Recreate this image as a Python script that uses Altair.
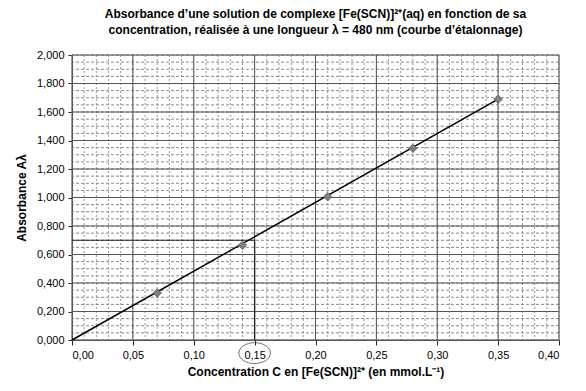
import altair as alt
import pandas as pd
import numpy as np

conc = [0.07, 0.14, 0.21, 0.28, 0.35]
absorb = [0.33, 0.665, 1.005, 1.345, 1.69]
fit_x = [0.0, 0.35]
fit_y = [0.0, 1.69]
x_ticks = [0.0, 0.05, 0.10, 0.15, 0.20, 0.25, 0.30, 0.35, 0.40]
y_ticks = [0.0, 0.2, 0.4, 0.6, 0.8, 1.0, 1.2, 1.4, 1.6, 1.8, 2.0]
x_minor = [round(v, 2) for v in np.arange(0, 0.401, 0.01)]
y_minor = [round(v, 2) for v in np.arange(0, 2.001, 0.05)]
read_a = 0.7
read_c = 0.15

font = "Liberation Sans"
xs = alt.Scale(domain=[0, 0.4], nice=False, zero=True)
ys = alt.Scale(domain=[0, 2.0], nice=False, zero=True)

x_axis = alt.Axis(values=x_ticks, labelExpr="replace(format(datum.value, '.2f'), '.', ',')",
                  grid=False, domainColor="#444444", tickColor="#222222", tickSize=5,
                  labelOverlap=False,
                  labelFont=font, labelFontSize=11, labelColor="black",
                  titleFont=font, titleFontSize=12, titleFontWeight="bold",
                  titleColor="black", labelPadding=4, titlePadding=6)
y_axis = alt.Axis(values=y_ticks, labelExpr="replace(format(datum.value, '.3f'), '.', ',')",
                  grid=False, domainColor="#444444", tickColor="#222222", tickSize=4,
                  labelOverlap=False,
                  labelFont=font, labelFontSize=11, labelColor="black",
                  titleFont=font, titleFontSize=12, titleFontWeight="bold",
                  titleColor="black", labelPadding=4, titlePadding=8)
x_title = "Concentration C en [Fe(SCN)]²⁺ (en mmol.L⁻¹)"
y_title = "Absorbance Aλ"


def X(field):
    return alt.X(field, scale=xs, axis=x_axis, title=x_title)


def Y(field):
    return alt.Y(field, scale=ys, axis=y_axis, title=y_title)


vminor = alt.Chart(pd.DataFrame({"x": x_minor})).mark_rule(
    color="#999999", strokeDash=[2, 2], strokeWidth=1
).encode(x=X("x:Q"))
hminor = alt.Chart(pd.DataFrame({"y": y_minor})).mark_rule(
    color="#888888", strokeDash=[3, 2], strokeWidth=1
).encode(y=Y("y:Q"))
vmajor = alt.Chart(pd.DataFrame({"x": x_ticks})).mark_rule(
    color="#555555", strokeWidth=1
).encode(x=X("x:Q"))
hmajor = alt.Chart(pd.DataFrame({"y": y_ticks})).mark_rule(
    color="#555555", strokeWidth=1
).encode(y=Y("y:Q"))

construct = pd.DataFrame({"x": [0.0, read_c], "x2": [read_c, read_c],
                          "y": [read_a, 0.0], "y2": [read_a, read_a]})
cons = alt.Chart(construct).mark_rule(color="#222222", strokeWidth=1.2).encode(
    x=X("x:Q"), x2="x2:Q", y=Y("y:Q"), y2="y2:Q")

line = alt.Chart(pd.DataFrame({"x": fit_x, "y": fit_y})).mark_line(
    color="black", strokeWidth=1.5
).encode(x=X("x:Q"), y=Y("y:Q"))

pts = alt.Chart(pd.DataFrame({"x": conc, "y": absorb})).mark_point(
    shape="diamond", filled=True, color="#808080", size=70, opacity=1,
    stroke="#555555", strokeWidth=0.8
).encode(x=X("x:Q"), y=Y("y:Q"))

circ = alt.Chart(pd.DataFrame({"x": [read_c], "y": [-0.092]})).mark_point(
    shape="M-1,0 A1,0.66 0 1,1 1,0 A1,0.66 0 1,1 -1,0 Z", size=1000,
    filled=False, color="#333333", strokeWidth=1, clip=False
).encode(x=X("x:Q"), y=Y("y:Q"))

chart = alt.layer(vminor, hminor, vmajor, hmajor, cons, line, pts, circ).properties(
    width=487, height=285,
    title=alt.TitleParams(
        ["Absorbance d’une solution de complexe [Fe(SCN)]²⁺(aq) en fonction de sa",
         "concentration, réalisée à une longueur λ = 480 nm (courbe d’étalonnage)"],
        font=font, fontSize=12, fontWeight="bold", color="black", anchor="middle",
        offset=12, lineHeight=16),
    padding={"left": 7, "top": 0, "right": 5, "bottom": 5},
).configure_view(stroke="#444444", strokeWidth=1).configure_axis(
    labelOverlap=False).configure(background="white")

chart.save("out.html", embed_options={"renderer": "svg", "actions": False})
